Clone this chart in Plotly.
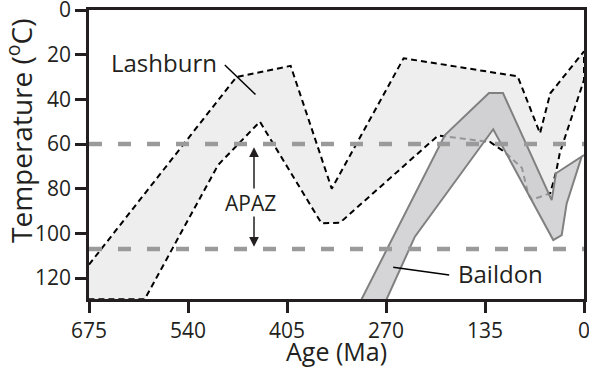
import plotly.graph_objects as go

# ---- axis ticks ----
x_ticks = [675, 540, 405, 270, 135, 0]
y_ticks = [0, 20, 40, 60, 80, 100, 120]

# ---- APAZ bounds (deg C) ----
apaz_top = 60
apaz_bottom = 107

# ---- Lashburn envelope ----
lash_upper_age = [675, 474, 400, 344, 246, 90.5, 60, 46, 0]
lash_upper_temp = [114, 30, 25, 80, 21.6, 29.7, 55.2, 37.3, 18.5]
lash_lower_age = [675, 599, 499, 442, 358, 333, 199, 128, 108, 84.6, 76.4, 71, 46, 38, 33, 3, 0]
lash_lower_temp = [129.5, 129.5, 69.4, 50, 95.5, 95.3, 56.2, 59.1, 63.6, 70.8, 82, 85, 82, 72.5, 64, 34.3, 31.3]

# ---- Baildon envelope ----
baildon_cool_age = [303.3, 189.7, 129.6, 110.5, 44.1, 38.2, 0]
baildon_cool_temp = [129.5, 56, 37.2, 37.2, 85.1, 73.1, 65]
baildon_hot_age = [269.2, 230.6, 123.8, 41.9, 30.4, 23.6, 3.2, 0]
baildon_hot_temp = [129.5, 101.5, 53.4, 103, 100.8, 86.6, 65.7, 65]

# ---- label pointers ----
lash_pointer_age = [489.8, 448]
lash_pointer_temp = [24.6, 37.8]
baildon_pointer_age = [260.2, 183.8]
baildon_pointer_temp = [115.2, 118.7]

FONT = "Open Sans"
TXT = "#231f20"

fig = go.Figure()

# Lashburn polygon
lx = lash_upper_age + lash_lower_age[::-1]
ly = lash_upper_temp + lash_lower_temp[::-1]
fig.add_trace(go.Scatter(x=lx, y=ly, mode="lines", fill="toself",
                         fillcolor="#eeeeee",
                         line=dict(color="black", width=2, dash="6px,4px"),
                         hoverinfo="skip"))

# Baildon polygon
bx = baildon_cool_age + baildon_hot_age[::-1]
by = baildon_cool_temp + baildon_hot_temp[::-1]
fig.add_trace(go.Scatter(x=bx, y=by, mode="lines", fill="toself",
                         fillcolor="rgba(199,199,202,0.75)",
                         line=dict(color="#808080", width=2),
                         hoverinfo="skip"))

# APAZ lines
for t in (apaz_top, apaz_bottom):
    fig.add_trace(go.Scatter(x=[x_ticks[0], x_ticks[-1]], y=[t, t], mode="lines",
                             line=dict(color="#9a9a9a", width=4.5, dash="13px,16px"),
                             hoverinfo="skip"))

# pointers
fig.add_trace(go.Scatter(x=lash_pointer_age, y=lash_pointer_temp, mode="lines",
                         line=dict(color="black", width=1.5), hoverinfo="skip"))
fig.add_trace(go.Scatter(x=baildon_pointer_age, y=baildon_pointer_temp, mode="lines",
                         line=dict(color="black", width=1.5), hoverinfo="skip"))

ann = [
    dict(x=573, y=23.7, text="Lashburn", showarrow=False, xanchor="center", yanchor="middle",
         font=dict(family=FONT, size=24, color=TXT)),
    dict(x=113.4, y=118.0, text="Baildon", showarrow=False, xanchor="center", yanchor="middle",
         font=dict(family=FONT, size=24, color=TXT)),
    dict(x=455, y=86.3, text="APAZ", showarrow=False, xanchor="center", yanchor="middle",
         font=dict(family=FONT, size=21, color=TXT)),
    # arrows
    dict(x=450, y=61.5, ax=450, ay=80.6, axref="x", ayref="y",
         showarrow=True, arrowhead=2, arrowsize=1.3, arrowwidth=1.5, arrowcolor=TXT, text=""),
    dict(x=450, y=106, ax=450, ay=91.8, axref="x", ayref="y",
         showarrow=True, arrowhead=2, arrowsize=1.3, arrowwidth=1.5, arrowcolor=TXT, text=""),
    # axis titles
    dict(xref="paper", yref="paper", x=(19 - 89) / 495, y=(299 - 131) / 289,
         xanchor="center", yanchor="middle",
         text="Temperature (<sup>o</sup>C)", textangle=-90, showarrow=False,
         font=dict(family=FONT, size=28, color=TXT)),
    dict(xref="paper", yref="paper", x=0.5, y=(299 - 351) / 289,
         xanchor="center", yanchor="middle",
         text="Age (Ma)", showarrow=False,
         font=dict(family=FONT, size=25, color=TXT)),
]

axis_common = dict(
    ticks="outside", ticklen=11, tickwidth=2.5, tickcolor=TXT,
    showline=True, linewidth=2.5, linecolor=TXT, mirror=True,
    showgrid=False, zeroline=False, automargin=False,
    ticklabeloverflow="allow",
    tickfont=dict(family=FONT, size=21, color=TXT),
)

fig.update_layout(
    width=589, height=368,
    margin=dict(l=89, r=5, t=10, b=69, autoexpand=False),
    plot_bgcolor="white", paper_bgcolor="white",
    showlegend=False,
    annotations=ann,
    xaxis=dict(range=[675, 0], tickvals=x_ticks, ticktext=[str(v) for v in x_ticks], **axis_common),
    yaxis=dict(range=[129.4, 0], tickvals=y_ticks, ticktext=[str(v) for v in y_ticks], **axis_common),
)

fig.write_html("out.html")
